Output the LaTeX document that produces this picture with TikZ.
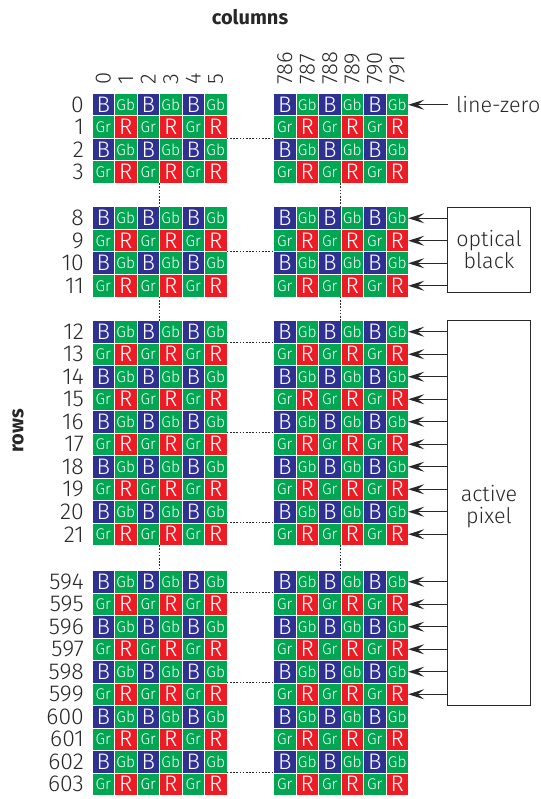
\documentclass[tikz,border=0pt]{standalone}
\usepackage{fontspec}
\setmainfont{Fira Sans}[UprightFont=* Light, BoldFont=* Bold]
\usetikzlibrary{arrows.meta}
\definecolor{bblue}{RGB}{46,49,146}
\definecolor{bgreen}{RGB}{0,166,81}
\definecolor{bred}{RGB}{237,28,36}
\definecolor{ink}{RGB}{40,40,40}
\tikzset{
  cellbase/.style={minimum size=21.5pt, inner sep=0pt, text=white},
  cB/.style={cellbase, fill=bblue, font=\fontsize{22.5}{22.5}\selectfont},
  cR/.style={cellbase, fill=bred, font=\fontsize{22.5}{22.5}\selectfont},
  cGb/.style={cellbase, fill=bgreen, font=\fontsize{15.5}{15.5}\selectfont},
  cGr/.style={cellbase, fill=bgreen, font=\fontsize{15.5}{15.5}\selectfont},
  rowlab/.style={anchor=east, inner sep=0pt, text=ink, font=\fontsize{23}{23}\selectfont},
  collab/.style={rotate=90, anchor=west, inner sep=0pt, text=ink, font=\fontsize{22}{22}\selectfont},
  arr/.style={draw=ink, line width=1.4pt, -{Stealth[length=16pt,width=10pt,inset=6.5pt]}},
  dots/.style={draw=ink, line width=1pt, dash pattern=on 1.6pt off 1.6pt},
  boxshape/.style={draw=ink, line width=1.3pt, inner sep=0pt, minimum width=83pt},
  boxtext/.style={inner sep=0pt, align=center, text=ink, font=\fontsize{21.5}{22}\selectfont},
  title/.style={inner sep=0pt, text=ink, font=\fontsize{20}{20}\selectfont\bfseries}
}
\newcommand\bayer[4]{%
  \ifcase#1\relax
    \node[cB] (#2) at (#3,#4) {B};%
  \or
    \node[cGb] (#2) at (#3,#4) {Gb};%
  \or
    \node[cGr] (#2) at (#3,#4) {Gr};%
  \or
    \node[cR] (#2) at (#3,#4) {R};%
  \fi}
\begin{document}
\begin{tikzpicture}[x=1pt,y=-1pt]
\useasboundingbox[fill=white] (0,0) rectangle (540,799);
% title labels
\node[title] (columns) at (250,17) {columns};
\node[title, rotate=90] (rows) at (18,431) {rows};
% cells
\foreach \gy/\first/\n in {94/0/4,207.5/8/4,321/12/10,571/594/10}{
  \foreach \k in {1,...,\n}{
    \pgfmathtruncatemacro\rr{\first+\k-1}
    \pgfmathsetmacro\yy{\gy+(\k-1)*22.5+10.75}
    \pgfmathtruncatemacro\rp{mod(\rr,2)}
    \node[rowlab] (lab\rr) at (84,\yy) {\rr};
    \foreach \c in {0,...,5}{
      \pgfmathtruncatemacro\kind{2*\rp+mod(\c,2)}
      \pgfmathtruncatemacro\cr{786+\c}
      \bayer{\kind}{c\rr-\c}{92.5+\c*22.5+10.75}{\yy}
      \bayer{\kind}{c\rr-\cr}{274+\c*22.5+10.75}{\yy}
    }
  }
}
% column labels
\foreach \c in {0,...,5}{
  \path (c0-\c.north) ++(0,-9) node[collab] (h\c) {\c};
}
\foreach \c in {786,...,791}{
  \path (c0-\c.north) ++(0,-9) node[collab] (h\c) {\c};
}
% horizontal dotted connectors
\foreach \r in {1,9,12,16,20,594,598,602}{
  \draw[dots] (c\r-5.south east) -- (c\r-5.south east -| c\r-786.west);
}
% vertical dotted connectors
\foreach \a/\b in {3/8,11/12,21/594}{
  \draw[dots] (c\a-2.south east) -- (c\a-2.south east |- c\b-2.north);
  \draw[dots] (c\a-788.south east) -- (c\a-788.south east |- c\b-788.north);
}
% line-zero
\node[boxtext, anchor=west] (lz) at (456,104.75) {line-zero};
\draw[arr] ([xshift=-8pt]lz.west) -- (lz.west -| c0-791.east);
% optical black
\node[boxshape, minimum height=85pt] (ob) at (489,250) {};
\node[boxtext] (obt) at (ob.center) {optical\\black};
\foreach \r in {8,9,10,11}{
  \draw[arr] (ob.west |- c\r-791.east) -- (c\r-791.east);
}
% active pixel
\node[boxshape, minimum height=385pt] (ap) at (489,513) {};
\node[boxtext] (apt) at ([yshift=6pt]ap.center) {active\\pixel};
\foreach \r in {12,...,21,594,595,596,597,598,599}{
  \draw[arr] (ap.west |- c\r-791.east) -- (c\r-791.east);
}
\end{tikzpicture}
\end{document}
